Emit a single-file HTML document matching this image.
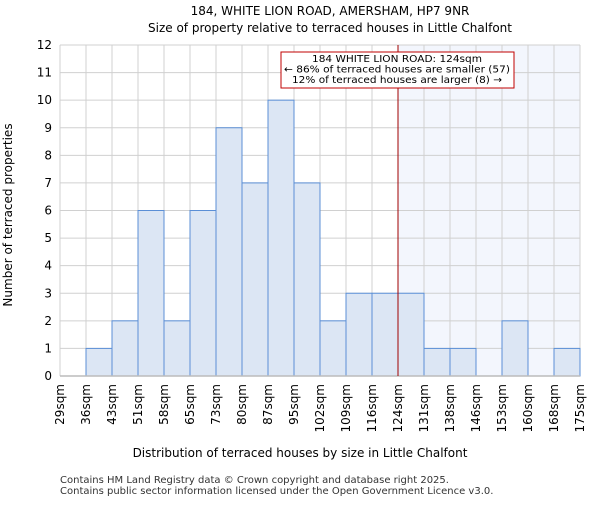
<!DOCTYPE html>
<html><head><meta charset="utf-8"><style>
body{margin:0;background:#fff;}
svg{font-family:"DejaVu Sans","Liberation Sans",sans-serif;}
</style></head><body>
<svg id="chart" width="600" height="500">
<text x="330" y="15" text-anchor="middle" font-size="12">184, WHITE LION ROAD, AMERSHAM, HP7 9NR</text>
<text x="330" y="32" text-anchor="middle" font-size="12">Size of property relative to terraced houses in Little Chalfont</text>
<g id="plot"></g>
<text x="300" y="457" text-anchor="middle" font-size="12">Distribution of terraced houses by size in Little Chalfont</text>
<text transform="translate(12,215) rotate(-90)" text-anchor="middle" font-size="12">Number of terraced properties</text>
<text x="60" y="483" font-size="10" fill="#333">Contains HM Land Registry data © Crown copyright and database right 2025.</text>
<text x="60" y="494" font-size="10" fill="#333">Contains public sector information licensed under the Open Government Licence v3.0.</text>
</svg>
<script>
const binLabels=["29sqm","36sqm","43sqm","51sqm","58sqm","65sqm","73sqm","80sqm","87sqm","95sqm","102sqm","109sqm","116sqm","124sqm","131sqm","138sqm","146sqm","153sqm","160sqm","168sqm","175sqm"];
const counts=[0,1,2,6,2,6,9,7,10,7,2,3,3,3,1,1,0,2,0,1];
const yTicks=[0,1,2,3,4,5,6,7,8,9,10,11,12];
const markerIndex=13;
const NS="http://www.w3.org/2000/svg";
const g=document.getElementById('plot');
const x0=60,x1=580,y0=376,y1=45,yMax=12;
const bw=(x1-x0)/counts.length;
const X=i=>x0+i*bw;
const Y=v=>y0-(v/yMax)*(y0-y1);
function mk(t,a){const e=document.createElementNS(NS,t);for(const k in a)e.setAttribute(k,a[k]);g.appendChild(e);return e;}
let e=mk('rect',{x:X(markerIndex),y:y1,width:x1-X(markerIndex),height:y0-y1,fill:'#f3f6fd'});


binLabels.forEach((l,i)=>{e=mk('line',{x1:X(i),x2:X(i),y1:y1,y2:y0,stroke:'#d0d0d0','stroke-width':1});

});
yTicks.forEach(v=>{e=mk('line',{x1:x0,x2:x1,y1:Y(v),y2:Y(v),stroke:'#d0d0d0','stroke-width':1});


e=mk('text',{x:x0-8,y:Y(v)+4,'text-anchor':'end','font-size':12});e.textContent=v;

});
counts.forEach((c,i)=>{if(c<=0)return;e=mk('rect',{x:X(i),y:Y(c),width:bw,height:y0-Y(c),fill:'#dce6f4',stroke:'#5b8fd6','stroke-width':1});

});
binLabels.forEach((l,i)=>{e=mk('text',{transform:`translate(${X(i)+4},384) rotate(-90)`,'text-anchor':'end','font-size':12});e.textContent=l;

});
e=mk('line',{x1:x0,x2:x1,y1:y0,y2:y0,stroke:'#bbb','stroke-width':1.5});


e=mk('line',{x1:X(markerIndex),x2:X(markerIndex),y1:y1,y2:y0,stroke:'#a00000','stroke-width':1});


e=mk('rect',{x:281,y:52,width:233,height:36,fill:'#fff',stroke:'#c00000','stroke-width':1});


["184 WHITE LION ROAD: 124sqm","← 86% of terraced houses are smaller (57)","12% of terraced houses are larger (8) →"].forEach((t,k)=>{
e=mk('text',{x:397,y:62+k*10.5,'text-anchor':'middle','font-size':10,textLength:k==0?170:(k==1?226:210),lengthAdjust:'spacingAndGlyphs'});e.textContent=t;

});
</script>
</body></html>
